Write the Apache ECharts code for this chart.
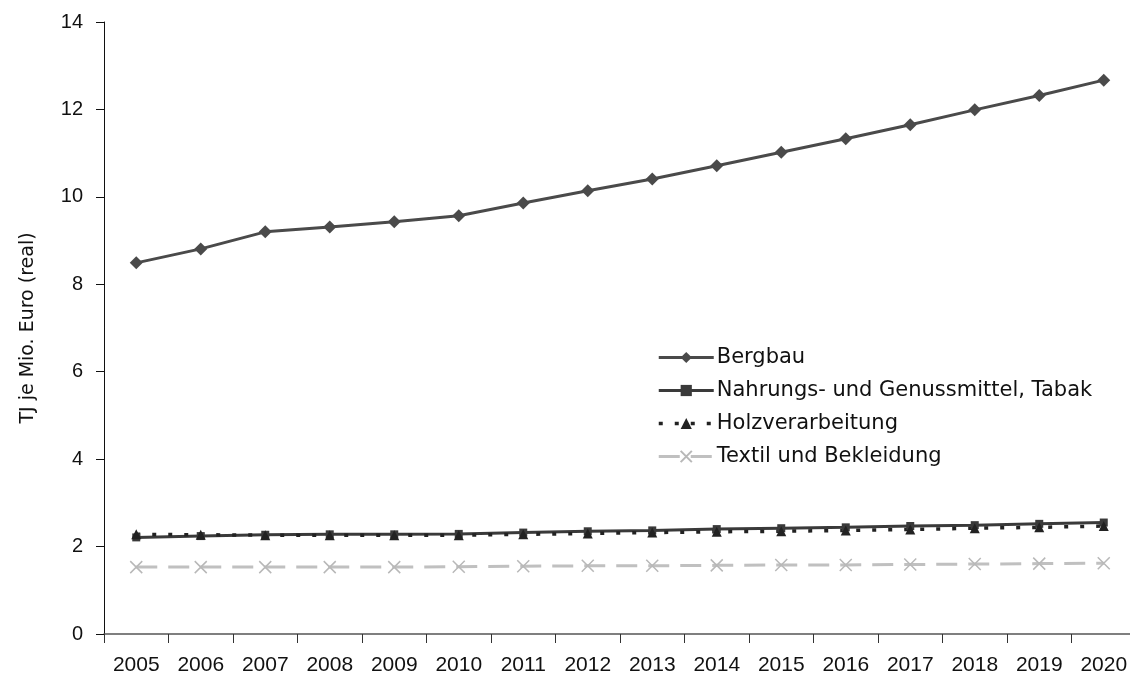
<!DOCTYPE html>
<html>
<head>
<meta charset="utf-8">
<script src="https://cdn.jsdelivr.net/npm/echarts@6/dist/echarts.min.js"></script>
<style>
  html, body { margin: 0; padding: 0; background: #fff; }
  #chart { width: 1130px; height: 680px; }
</style>
</head>
<body>
<div id="chart"></div>
<script>
// Energieintensität je Branche, TJ je Mio. Euro (real)
const years = ['2005','2006','2007','2008','2009','2010','2011','2012','2013','2014','2015','2016','2017','2018','2019','2020'];
const bergbau = [8.49, 8.81, 9.20, 9.31, 9.43, 9.57, 9.86, 10.14, 10.41, 10.71, 11.02, 11.33, 11.65, 11.99, 12.32, 12.67];
const nahrung = [2.21, 2.24, 2.27, 2.28, 2.28, 2.29, 2.32, 2.35, 2.37, 2.40, 2.42, 2.44, 2.47, 2.49, 2.52, 2.55];
const holz    = [2.28, 2.27, 2.26, 2.26, 2.26, 2.26, 2.28, 2.30, 2.32, 2.34, 2.35, 2.37, 2.39, 2.42, 2.44, 2.47];
const textil  = [1.53, 1.53, 1.53, 1.53, 1.53, 1.54, 1.55, 1.56, 1.56, 1.57, 1.58, 1.58, 1.59, 1.60, 1.61, 1.62];
const yTicks = { min: 0, max: 14, interval: 2 };

const TEXT_FONT = 'DejaVu Sans';
const NUM_FONT = 'Liberation Sans';
const crossPath = 'path://M0,0L10,10M10,0L0,10';

const chart = echarts.init(document.getElementById('chart'), null, { renderer: 'canvas' });
chart.setOption({
  animation: false,
  backgroundColor: '#ffffff',
  textStyle: { fontFamily: TEXT_FONT },
  grid: {
    left: 104, width: 1032, top: 22, bottom: 46,
    containLabel: false,
    outerBoundsMode: 'none'
  },
  legend: {
    orient: 'vertical',
    left: 652,
    top: 342,
    itemWidth: 55,
    itemHeight: 14,
    itemGap: 12,
    lineStyle: { width: 'inherit' },
    textStyle: { fontFamily: TEXT_FONT, fontSize: 21, color: '#111', padding: [0, 0, 0, -2] },
    data: ['Bergbau', 'Nahrungs- und Genussmittel, Tabak', 'Holzverarbeitung', 'Textil und Bekleidung']
  },
  xAxis: {
    type: 'category',
    data: years,
    boundaryGap: true,
    axisLine: { lineStyle: { color: '#555', width: 1.5 } },
    axisTick: { show: true, length: 9, lineStyle: { color: '#333' } },
    axisLabel: { fontFamily: NUM_FONT, fontSize: 21, color: '#111', margin: 21 },
    splitLine: { show: false }
  },
  yAxis: {
    type: 'value',
    min: yTicks.min,
    max: yTicks.max,
    interval: yTicks.interval,
    name: 'TJ je Mio. Euro (real)',
    nameLocation: 'middle',
    nameRotate: 90,
    nameGap: 66,
    nameTextStyle: { fontFamily: TEXT_FONT, fontSize: 19, color: '#111' },
    axisLine: { show: true, lineStyle: { color: '#111', width: 1 } },
    axisTick: { show: true, inside: false, length: 8, lineStyle: { color: '#111' } },
    axisLabel: { fontFamily: NUM_FONT, fontSize: 20, color: '#111', margin: 21 },
    splitLine: { show: false }
  },
  series: [
    {
      name: 'Bergbau',
      type: 'line',
      data: bergbau,
      symbol: 'diamond',
      symbolSize: 13,
      showAllSymbol: true,
      lineStyle: { color: '#4a4a4a', width: 3 },
      itemStyle: { color: '#4a4a4a' }
    },
    {
      name: 'Nahrungs- und Genussmittel, Tabak',
      type: 'line',
      data: nahrung,
      symbol: 'rect',
      symbolSize: 8,
      lineStyle: { color: '#3a3a3a', width: 3 },
      itemStyle: { color: '#3a3a3a' }
    },
    {
      name: 'Holzverarbeitung',
      type: 'line',
      data: holz,
      symbol: 'triangle',
      symbolSize: 10,
      lineStyle: { color: '#222', width: 3.5, type: [4, 12] },
      itemStyle: { color: '#222' }
    },
    {
      name: 'Textil und Bekleidung',
      type: 'line',
      data: textil,
      symbol: crossPath,
      symbolSize: 12,
      lineStyle: { color: '#c0c0c0', width: 3, type: [21, 11] },
      itemStyle: { color: 'rgba(0,0,0,0)', borderColor: '#b8b8b8', borderWidth: 1.5 }
    }
  ]
});
</script>
</body>
</html>
